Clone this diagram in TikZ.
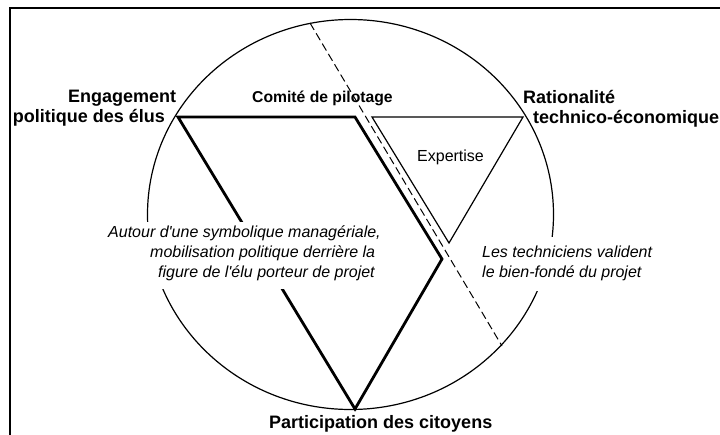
\documentclass[tikz,border=0pt]{standalone}
\usepackage{fontspec}
\setmainfont{Liberation Sans}
\begin{document}
\begin{tikzpicture}[x=1pt,y=-1pt,
  lblb/.style={inner sep=0pt, anchor=base west, font=\bfseries\fontsize{18}{20}\selectfont},
  lbli/.style={inner sep=0pt, anchor=base west, font=\itshape\fontsize{16}{20}\selectfont},
  thickln/.style={line width=2.8pt, line join=miter},
  thinln/.style={line width=1.2pt},
  dashln/.style={line width=1pt, dash pattern=on 8pt off 4pt},
  blank/.style={fill=white, draw=none}]
\useasboundingbox (0,0) rectangle (720,434);
% frame
\draw[line width=1.5pt] (10,8) rectangle (740,450);
% circle
\draw[thinln] (350.5,214.5) ellipse [x radius=203pt, y radius=195pt];
% vertices
\coordinate (E) at (178,117);
\coordinate (C) at (355,117);
\coordinate (M) at (442,259);
\coordinate (P) at (355,409);
\coordinate (T1) at (372,117);
\coordinate (R) at (523,117);
\coordinate (T3) at (449,243);
\coordinate (D1) at (310,23);
\coordinate (D2) at (502,346);
% thick polygon
\draw[thickln] (E) -- (C) -- (M) -- (P) -- cycle;
% expertise triangle
\draw[thinln, line join=miter] (T1) -- (R) -- (T3) -- cycle;
% dashed chord
\draw[dashln] (D1) -- (D2);
% white boxes behind italic texts
\fill[blank] (104,222) rectangle (386,289);
\fill[blank] (478,237) rectangle (662,291);
% labels
\node[lblb] (eng1) at (68,102) {Engagement};
\node[lblb] (eng2) at (12.7,122) {politique des élus};
\node[lblb, font=\bfseries\fontsize{15.7}{20}\selectfont] (com) at (252,102) {Comité de pilotage};
\node[lblb] (rat1) at (523,103) {Rationalité};
\node[lblb] (rat2) at (533,123) {technico-économique};
\node[lblb] (par) at (269,428) {Participation des citoyens};
\node[inner sep=0pt, anchor=base west, font=\fontsize{16}{20}\selectfont] (exp) at (417,161) {Expertise};
\node[lbli] (a1) at (108,237) {Autour d\textquotesingle une symbolique managériale,};
\node[lbli] (a2) at (150,257) {mobilisation politique derrière la};
\node[lbli] (a3) at (158,277) {figure de l\textquotesingle élu porteur de projet};
\node[lbli] (t1) at (482,257) {Les techniciens valident};
\node[lbli] (t2) at (482,277) {le bien-fondé du projet};
\end{tikzpicture}
\end{document}
